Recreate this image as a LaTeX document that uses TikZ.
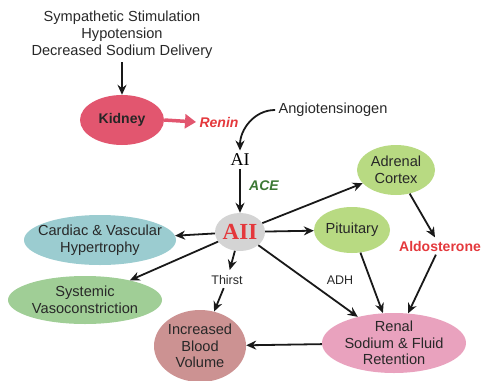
\documentclass[tikz,border=0pt]{standalone}
\usepackage{fontspec}
\setmainfont{Liberation Sans}
\newfontfamily\serifraas{Liberation Serif}
\usetikzlibrary{shapes.geometric,arrows.meta}

\definecolor{kidneyred}{RGB}{226,86,111}
\definecolor{reninred}{RGB}{228,56,60}
\definecolor{acegreen}{RGB}{60,120,52}
\definecolor{leafgreen}{RGB}{184,218,130}
\definecolor{tealblue}{RGB}{155,204,208}
\definecolor{sagegreen}{RGB}{160,206,150}
\definecolor{dustyrose}{RGB}{204,146,146}
\definecolor{candypink}{RGB}{233,162,190}
\definecolor{ashgray}{RGB}{212,212,212}
\definecolor{inktext}{RGB}{40,40,40}

\tikzset{
	organ/.style={ellipse, inner xsep=-12pt, inner ysep=-6pt, align=center, text=inktext, font=\fontsize{14.6}{16.5}\selectfont},
	plain/.style={align=center, text=inktext, font=\fontsize{14.6}{17}\selectfont},
	flow/.style={-{Stealth[length=10pt,width=9pt]}, line width=1.8pt, black!90}
}

\begin{document}
\begin{tikzpicture}[x=1pt,y=-1pt]
	\useasboundingbox (0,0) rectangle (492,380);

	\node[plain] (stim) at (122,35) {Sympathetic Stimulation\\Hypotension\\Decreased Sodium Delivery};

	\node[organ, fill=kidneyred, minimum width=84pt, minimum height=50pt, font=\bfseries\fontsize{14}{16}\selectfont, text=black!85] (kidney) at (122,120) {Kidney};
	\node[font=\bfseries\itshape\fontsize{14}{16}\selectfont, text=reninred] (renin) at (219,122) {Renin};
	\node[plain] (angio) at (333,110) {Angiotensinogen};
	\node[font=\serifraas\fontsize{18}{20}\selectfont] (AI) at (240,160) {AI};
	\node[font=\bfseries\itshape\fontsize{14}{16}\selectfont, text=acegreen] (ace) at (264,186) {ACE};

	\node[organ, fill=ashgray, minimum width=50pt, minimum height=38pt, font=\serifraas\bfseries\fontsize{23}{25}\selectfont, text=reninred] (AII) at (240,232) {AII};

	\node[organ, fill=leafgreen, minimum width=78pt, minimum height=50pt] (adrenal) at (396,170) {Adrenal\\Cortex};
	\node[organ, fill=leafgreen, minimum width=76pt, minimum height=46pt] (pituitary) at (352,230) {Pituitary};
	\node[font=\bfseries\fontsize{14}{16}\selectfont, text=reninred] (aldo) at (440,246) {Aldosterone};

	\node[organ, fill=tealblue, minimum width=152pt, minimum height=50pt] (cardiac) at (100,240) {Cardiac \& Vascular\\Hypertrophy};
	\node[organ, fill=sagegreen, minimum width=154pt, minimum height=48pt] (systemic) at (85,300) {Systemic\\Vasoconstriction};

	\node[plain, font=\fontsize{12.5}{14}\selectfont] (thirst) at (227,280) {Thirst};
	\node[plain, font=\fontsize{12.5}{14}\selectfont] (adh) at (340,280) {ADH};

	\node[organ, fill=dustyrose, minimum width=92pt, minimum height=72pt] (volume) at (200,346) {Increased\\Blood\\Volume};
	\node[organ, fill=candypink, minimum width=144pt, minimum height=60pt] (renal) at (394,343) {Renal\\Sodium \& Fluid\\Retention};

	\draw[flow] (stim) to (kidney);
	\draw[-{Triangle[length=11pt,width=14pt]}, line width=3.5pt, kidneyred] (kidney.east) to (renin.west);
	\draw[flow] (angio.west) to[out=180,in=90] (AI.north);
	\draw[flow] (AI) to (AII);

	\draw[flow] (AII) to (cardiac);
	\draw[flow] (AII) to (systemic);
	\draw[flow, shorten >=2pt] (AII) to (thirst);
	\draw[flow] (thirst) to (volume);
	\draw[flow] (AII) to (adrenal);
	\draw[flow] (AII) to (pituitary);
	\draw[flow] (AII) to (renal);

	\draw[flow] (adrenal) to (aldo);
	\draw[flow] (aldo) to (renal);
	\draw[flow] (pituitary) to (renal);
	\draw[flow] (renal) to (volume);

\end{tikzpicture}
\end{document}
